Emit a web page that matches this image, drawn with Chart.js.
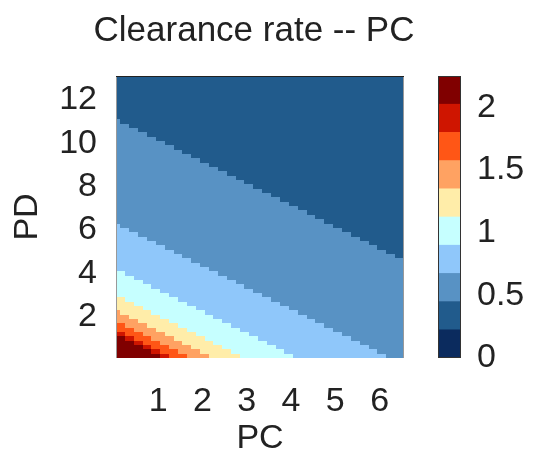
<!DOCTYPE html>
<html>
<head>
<meta charset="utf-8">
<script src="https://cdn.jsdelivr.net/npm/chart.js@4.4.0/dist/chart.umd.min.js"></script>
<style>
html, body { margin: 0; padding: 0; background: #fff; }
#wrap { position: relative; width: 534px; height: 459px; }
#heat { position: absolute; left: 0; top: 0; }
#bar { position: absolute; left: 410px; top: 0; }
</style>
</head>
<body>
<div id="wrap">
  <canvas id="heat" width="508" height="459"></canvas>
  <canvas id="bar" width="124" height="459"></canvas>
</div>
<script>
// grid of the map: PC along x, PD along y (cell centres)
const pcValues = [
  0.1, 0.2, 0.3, 0.4, 0.5, 0.6, 0.7, 0.8, 0.9, 1.0,
  1.1, 1.2, 1.3, 1.4, 1.5, 1.6, 1.7, 1.8, 1.9, 2.0,
  2.1, 2.2, 2.3, 2.4, 2.5, 2.6, 2.7, 2.8, 2.9, 3.0,
  3.1, 3.2, 3.3, 3.4, 3.5, 3.6, 3.7, 3.8, 3.9, 4.0,
  4.1, 4.2, 4.3, 4.4, 4.5, 4.6, 4.7, 4.8, 4.9, 5.0,
  5.1, 5.2, 5.3, 5.4, 5.5, 5.6, 5.7, 5.8, 5.9, 6.0,
  6.1, 6.2, 6.3, 6.4, 6.5
];
const pdValues = [
  0.2, 0.4, 0.6, 0.8, 1.0, 1.2, 1.4, 1.6, 1.8, 2.0,
  2.2, 2.4, 2.6, 2.8, 3.0, 3.2, 3.4, 3.6, 3.8, 4.0,
  4.2, 4.4, 4.6, 4.8, 5.0, 5.2, 5.4, 5.6, 5.8, 6.0,
  6.2, 6.4, 6.6, 6.8, 7.0, 7.2, 7.4, 7.6, 7.8, 8.0,
  8.2, 8.4, 8.6, 8.8, 9.0, 9.2, 9.4, 9.6, 9.8, 10.0,
  10.2, 10.4, 10.6, 10.8, 11.0, 11.2, 11.4, 11.6, 11.8, 12.0,
  12.2, 12.4, 12.6, 12.8, 13.0
];

const xTicks = [1, 2, 3, 4, 5, 6];
const yTicks = [2, 4, 6, 8, 10, 12];
const cbTicks = [0, 0.5, 1, 1.5, 2];

// colour levels of the clearance rate
const levelEdges = [0, 0.225, 0.45, 0.675, 0.9, 1.125, 1.35, 1.575, 1.8, 2.025, 2.25];
const levelColors = ['#0b2b5e', '#215b8c', '#5892c4', '#8fc7fa', '#c6ffff',
                     '#ffeda9', '#ffa262', '#ff5616', '#cf1500', '#800000'];

// level index of each cell, one row per PD value (bottom row first),
// written as runs "level:count" going left to right along PC
const levelRows = [
  "9:10 8:2 7:4 6:5 5:7 4:12 3:21 2:4",
  "9:8 8:2 7:4 6:5 5:7 4:12 3:21 2:6",
  "9:6 8:2 7:4 6:5 5:7 4:12 3:21 2:8",
  "9:4 8:2 7:4 6:5 5:7 4:12 3:21 2:10",
  "9:2 8:2 7:4 6:5 5:7 4:12 3:21 2:12",
  "8:2 7:4 6:5 5:7 4:12 3:21 2:14",
  "7:4 6:5 5:7 4:12 3:21 2:16",
  "7:2 6:5 5:7 4:12 3:21 2:18",
  "6:5 5:7 4:12 3:21 2:20",
  "6:3 5:7 4:12 3:21 2:22",
  "6:1 5:7 4:12 3:21 2:24",
  "5:6 4:12 3:21 2:26",
  "5:4 4:12 3:21 2:28",
  "5:2 4:12 3:21 2:30",
  "4:12 3:21 2:32",
  "4:10 3:21 2:34",
  "4:8 3:21 2:36",
  "4:6 3:21 2:38",
  "4:4 3:21 2:40",
  "4:2 3:21 2:42",
  "3:21 2:44",
  "3:19 2:46",
  "3:17 2:48",
  "3:15 2:48 1:2",
  "3:13 2:48 1:4",
  "3:11 2:48 1:6",
  "3:9 2:48 1:8",
  "3:7 2:48 1:10",
  "3:5 2:48 1:12",
  "3:3 2:48 1:14",
  "3:1 2:48 1:16",
  "2:47 1:18",
  "2:45 1:20",
  "2:43 1:22",
  "2:41 1:24",
  "2:39 1:26",
  "2:37 1:28",
  "2:35 1:30",
  "2:33 1:32",
  "2:31 1:34",
  "2:29 1:36",
  "2:27 1:38",
  "2:25 1:40",
  "2:23 1:42",
  "2:21 1:44",
  "2:19 1:46",
  "2:17 1:48",
  "2:15 1:50",
  "2:13 1:52",
  "2:11 1:54",
  "2:9 1:56",
  "2:7 1:58",
  "2:5 1:60",
  "2:3 1:62",
  "2:1 1:64",
  "1:65", "1:65", "1:65", "1:65", "1:65",
  "1:65", "1:65", "1:65", "1:65", "1:65"
];

// unpack the runs
const levelGrid = levelRows.map(row => {
  const out = [];
  row.split(' ').forEach(run => {
    const [lev, n] = run.split(':').map(Number);
    for (let k = 0; k < n; k++) out.push(lev);
  });
  return out;
});

const FONT = "'Liberation Sans', Arial, Helvetica, sans-serif";
const TXT = '#222';
const font34 = { family: FONT, size: 34 };

const heatPlugin = {
  id: 'heatCells',
  beforeDatasetsDraw(chart) {
    const { ctx, chartArea, scales: { x, y } } = chart;
    const hw = (pcValues[1] - pcValues[0]) / 2;
    const hh = (pdValues[1] - pdValues[0]) / 2;
    ctx.save();
    levelGrid.forEach((row, j) => {
      const yb = Math.round(y.getPixelForValue(pdValues[j] - hh));
      const yt = Math.round(y.getPixelForValue(pdValues[j] + hh));
      row.forEach((lev, i) => {
        const xl = Math.round(x.getPixelForValue(pcValues[i] - hw));
        const xr = Math.round(x.getPixelForValue(pcValues[i] + hw));
        ctx.fillStyle = levelColors[lev];
        ctx.fillRect(xl, yt, xr - xl, yb - yt);
      });
    });
    // frame
    const { left, right, top, bottom } = chartArea;
    ctx.lineWidth = 1;
    ctx.strokeStyle = '#999';
    ctx.beginPath();
    ctx.moveTo(left + 0.5, top); ctx.lineTo(left + 0.5, bottom);
    ctx.moveTo(right - 0.5, top); ctx.lineTo(right - 0.5, bottom);
    ctx.stroke();
    ctx.strokeStyle = '#222';
    ctx.beginPath();
    ctx.moveTo(left, top + 0.5); ctx.lineTo(right, top + 0.5);
    ctx.stroke();
    ctx.restore();
  }
};

new Chart(document.getElementById('heat'), {
  type: 'scatter',
  data: { datasets: [] },
  options: {
    responsive: false,
    animation: false,
    devicePixelRatio: 1,
    layout: { padding: 0 },
    plugins: {
      legend: { display: false },
      tooltip: { enabled: false },
      title: {
        display: true,
        text: 'Clearance rate -- PC',
        color: TXT,
        font: { family: FONT, size: 35, weight: 'normal' },
        padding: { top: 10, bottom: 24 }
      }
    },
    scales: {
      x: {
        type: 'linear',
        min: 0.05,
        max: 6.55,
        afterBuildTicks: s => { s.ticks = xTicks.map(v => ({ value: v })); },
        afterFit: s => { s.height = 101; },
        grid: { display: false, drawTicks: false },
        border: { display: false },
        ticks: { font: font34, color: TXT, padding: 23, maxRotation: 0, autoSkip: false },
        title: { display: true, text: 'PC', color: TXT, font: font34, padding: { top: 0, bottom: 0 } }
      },
      y: {
        type: 'linear',
        min: 0.1,
        max: 13.1,
        afterBuildTicks: s => { s.ticks = yTicks.map(v => ({ value: v })); },
        afterFit: s => { s.width = 116; },
        grid: { display: false, drawTicks: false },
        border: { display: false },
        ticks: { font: font34, color: TXT, padding: 19, autoSkip: false },
        title: { display: true, text: 'PD', color: TXT, font: font34, padding: { top: 7, bottom: 0 } }
      },
      yr: {
        type: 'linear',
        position: 'right',
        min: 0,
        max: 1,
        afterFit: s => { s.width = 104; },
        grid: { display: false, drawTicks: false },
        border: { display: false },
        ticks: { display: false }
      }
    }
  },
  plugins: [heatPlugin]
});

const framePlugin = {
  id: 'cbFrame',
  afterDatasetsDraw(chart) {
    const { ctx, chartArea: { left, right, top, bottom } } = chart;
    ctx.save();
    ctx.strokeStyle = '#333';
    ctx.lineWidth = 1;
    ctx.strokeRect(left + 0.5, top + 0.5, right - left - 1, bottom - top - 1);
    ctx.restore();
  }
};

new Chart(document.getElementById('bar'), {
  type: 'bar',
  data: {
    labels: [''],
    datasets: levelColors.map((c, b) => ({
      data: [levelEdges[b + 1] - levelEdges[b]],
      backgroundColor: c,
      borderWidth: 0,
      barPercentage: 1,
      categoryPercentage: 1
    }))
  },
  options: {
    responsive: false,
    animation: false,
    devicePixelRatio: 1,
    layout: { padding: { left: 28, top: 76, bottom: 101, right: 0 } },
    plugins: { legend: { display: false }, tooltip: { enabled: false }, title: { display: false } },
    scales: {
      x: { stacked: true, display: false },
      y: {
        stacked: true,
        position: 'right',
        min: levelEdges[0],
        max: levelEdges[levelEdges.length - 1],
        afterBuildTicks: s => { s.ticks = cbTicks.map(v => ({ value: v })); },
        afterFit: s => { s.width = 73; },
        grid: { display: false, drawTicks: false },
        border: { display: false },
        ticks: { font: font34, color: TXT, padding: 16, autoSkip: false, callback: v => String(v) }
      }
    }
  },
  plugins: [framePlugin]
});
</script>
</body>
</html>
